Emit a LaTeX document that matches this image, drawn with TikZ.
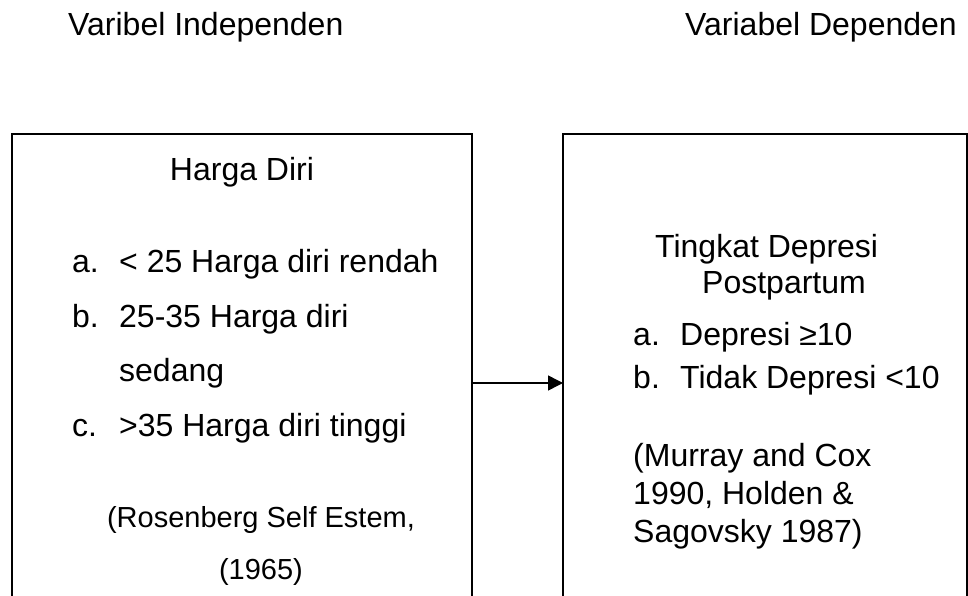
\documentclass[tikz,border=0pt]{standalone}
\usepackage{fontspec}
\setmainfont{Liberation Sans}
\usetikzlibrary{arrows.meta}
\tikzset
{
    varbox/.style = {draw=black, line width=2pt, minimum height=498pt, anchor=north west, inner sep=0pt, outer sep=0pt},
    txt/.style    = {inner sep=0pt, anchor=base west, font=\fontsize{32}{38}\selectfont},
    ctxt/.style   = {txt, anchor=base},
    srctxt/.style = {ctxt, font=\fontsize{29}{35}\selectfont}
}
\newcommand{\itemlbl}[1]{\makebox[47pt][l]{#1}}

\begin{document}
\begin{tikzpicture}[x=1pt, y=-1pt, >={Triangle[length=15pt,width=15pt]}]
    \useasboundingbox (0,0) rectangle (968,596);
    \node [txt] (titleindep) at (68,36) {Varibel Independen};
    \node [txt] (titledep) at (685,36) {Variabel Dependen};

    \node [varbox, minimum width=460pt] (indep) at (12,134) {};
    \node [varbox, minimum width=404pt] (dep) at (563,134) {};

    \node [ctxt] (harga) at (242,180) {Harga Diri};
    \node [txt] (hitema) at (72,272) {\itemlbl{a.}< 25 Harga diri rendah};
    \node [txt] (hitemb) at (72,327) {\itemlbl{b.}25-35 Harga diri};
    \node [txt] (hitembb) at (119,381) {sedang};
    \node [txt] (hitemc) at (72,436) {\itemlbl{c.}>35 Harga diri tinggi};
    \node [srctxt] (rosen) at (261,527) {(Rosenberg Self Estem,};
    \node [srctxt] (roseny) at (261,579) {(1965)};

    \node [txt] (tingkat) at (655,257) {Tingkat Depresi};
    \node [txt] (postp) at (702,293) {Postpartum};
    \node [txt] (ditema) at (633,345) {\itemlbl{a.}Depresi ≥10};
    \node [txt] (ditemb) at (633,388) {\itemlbl{b.}Tidak Depresi <10};
    \node [txt] (murray) at (633,466) {(Murray and Cox};
    \node [txt] (holden) at (633,504) {1990, Holden \&};
    \node [txt] (sagov) at (633,542) {Sagovsky 1987)};

    \draw [->, line width=1.5pt] (indep) -- (dep);
\end{tikzpicture}
\end{document}
